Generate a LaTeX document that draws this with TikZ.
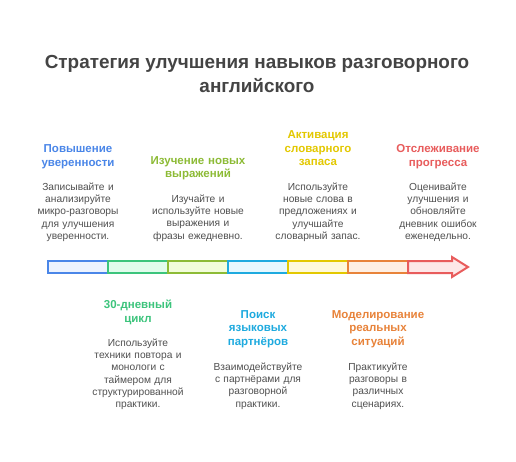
\documentclass[tikz,border=0pt]{standalone}
\usepackage{fontspec}
\setmainfont{Liberation Sans}
\definecolor{cblue}{HTML}{4A86E8}
\definecolor{fblue}{HTML}{EDF3FE}
\definecolor{cgreen}{HTML}{3CC47C}
\definecolor{fgreen}{HTML}{E1FCEC}
\definecolor{clime}{HTML}{8DBB36}
\definecolor{flime}{HTML}{F2FDDA}
\definecolor{ccyan}{HTML}{1EAADF}
\definecolor{fcyan}{HTML}{E6F8FE}
\definecolor{cyellow}{HTML}{E3C800}
\definecolor{fyellow}{HTML}{FEF9DA}
\definecolor{corange}{HTML}{E8833A}
\definecolor{forange}{HTML}{FEEFE3}
\definecolor{cred}{HTML}{E85C5C}
\definecolor{fred}{HTML}{FDE8E8}
\definecolor{ctitle}{HTML}{444444}
\definecolor{cbody}{HTML}{505050}
\tikzset{
  seg/.style={draw=#1, line width=2pt},
  head/.style={font=\fontsize{11.5}{13.5}\selectfont\bfseries, text=#1, align=center, inner sep=0pt, anchor=north, text width=110pt},
  body/.style={font=\fontsize{10.2}{12.3}\selectfont, text=cbody, align=center, inner sep=0pt, anchor=north, text width=110pt},
}
\begin{document}
\begin{tikzpicture}[x=1pt,y=-1pt]
\useasboundingbox[fill=white] (0,0) rectangle (516,462);
\node[font=\fontsize{18.9}{24}\selectfont\bfseries, text=ctitle, align=center, inner sep=0pt, anchor=north] (title) at (257,55) {Стратегия улучшения навыков разговорного\\английского};
% bar
\path[seg=cblue, fill=fblue] (48,261) rectangle (108,273);
\path[seg=cgreen, fill=fgreen] (108,261) rectangle (168,273);
\path[seg=clime, fill=flime] (168,261) rectangle (228,273);
\path[seg=ccyan, fill=fcyan] (228,261) rectangle (288,273);
\path[seg=cyellow, fill=fyellow] (288,261) rectangle (348,273);
\path[seg=corange, fill=forange] (348,261) rectangle (408,273);
\path[seg=cred, fill=fred, line join=miter] (408,261) -- (452,261) -- (452,257) -- (468,267) -- (452,277) -- (452,273) -- (408,273) -- cycle;
% top columns
\node[head=cblue] (h1) at (78,144.5) {Повышение\\уверенности};
\node[body] (b1) at (78,182.5) {Записывайте и\\анализируйте\\микро-разговоры\\для улучшения\\уверенности.};
\node[head=clime] (h2) at (198,156) {Изучение новых\\выражений};
\node[body] (b2) at (198,194.5) {Изучайте и\\используйте новые\\выражения и\\фразы ежедневно.};
\node[head=cyellow] (h3) at (318,130.5) {Активация\\словарного\\запаса};
\node[body] (b3) at (318,182.5) {Используйте\\новые слова в\\предложениях и\\улучшайте\\словарный запас.};
\node[head=cred] (h4) at (438,144.5) {Отслеживание\\прогресса};
\node[body] (b4) at (438,182.5) {Оценивайте\\улучшения и\\обновляйте\\дневник ошибок\\еженедельно.};
% bottom columns
\node[head=cgreen] (h5) at (138,300) {30-дневный\\цикл};
\node[body] (b5) at (138,338.5) {Используйте\\техники повтора и\\монологи с\\таймером для\\структурированной\\практики.};
\node[head=ccyan] (h6) at (258,310) {Поиск\\языковых\\партнёров};
\node[body] (b6) at (258,362.5) {Взаимодействуйте\\с партнёрами для\\разговорной\\практики.};
\node[head=corange] (h7) at (378,310) {Моделирование\\реальных\\ситуаций};
\node[body] (b7) at (378,362.5) {Практикуйте\\разговоры в\\различных\\сценариях.};
\end{tikzpicture}
\end{document}
